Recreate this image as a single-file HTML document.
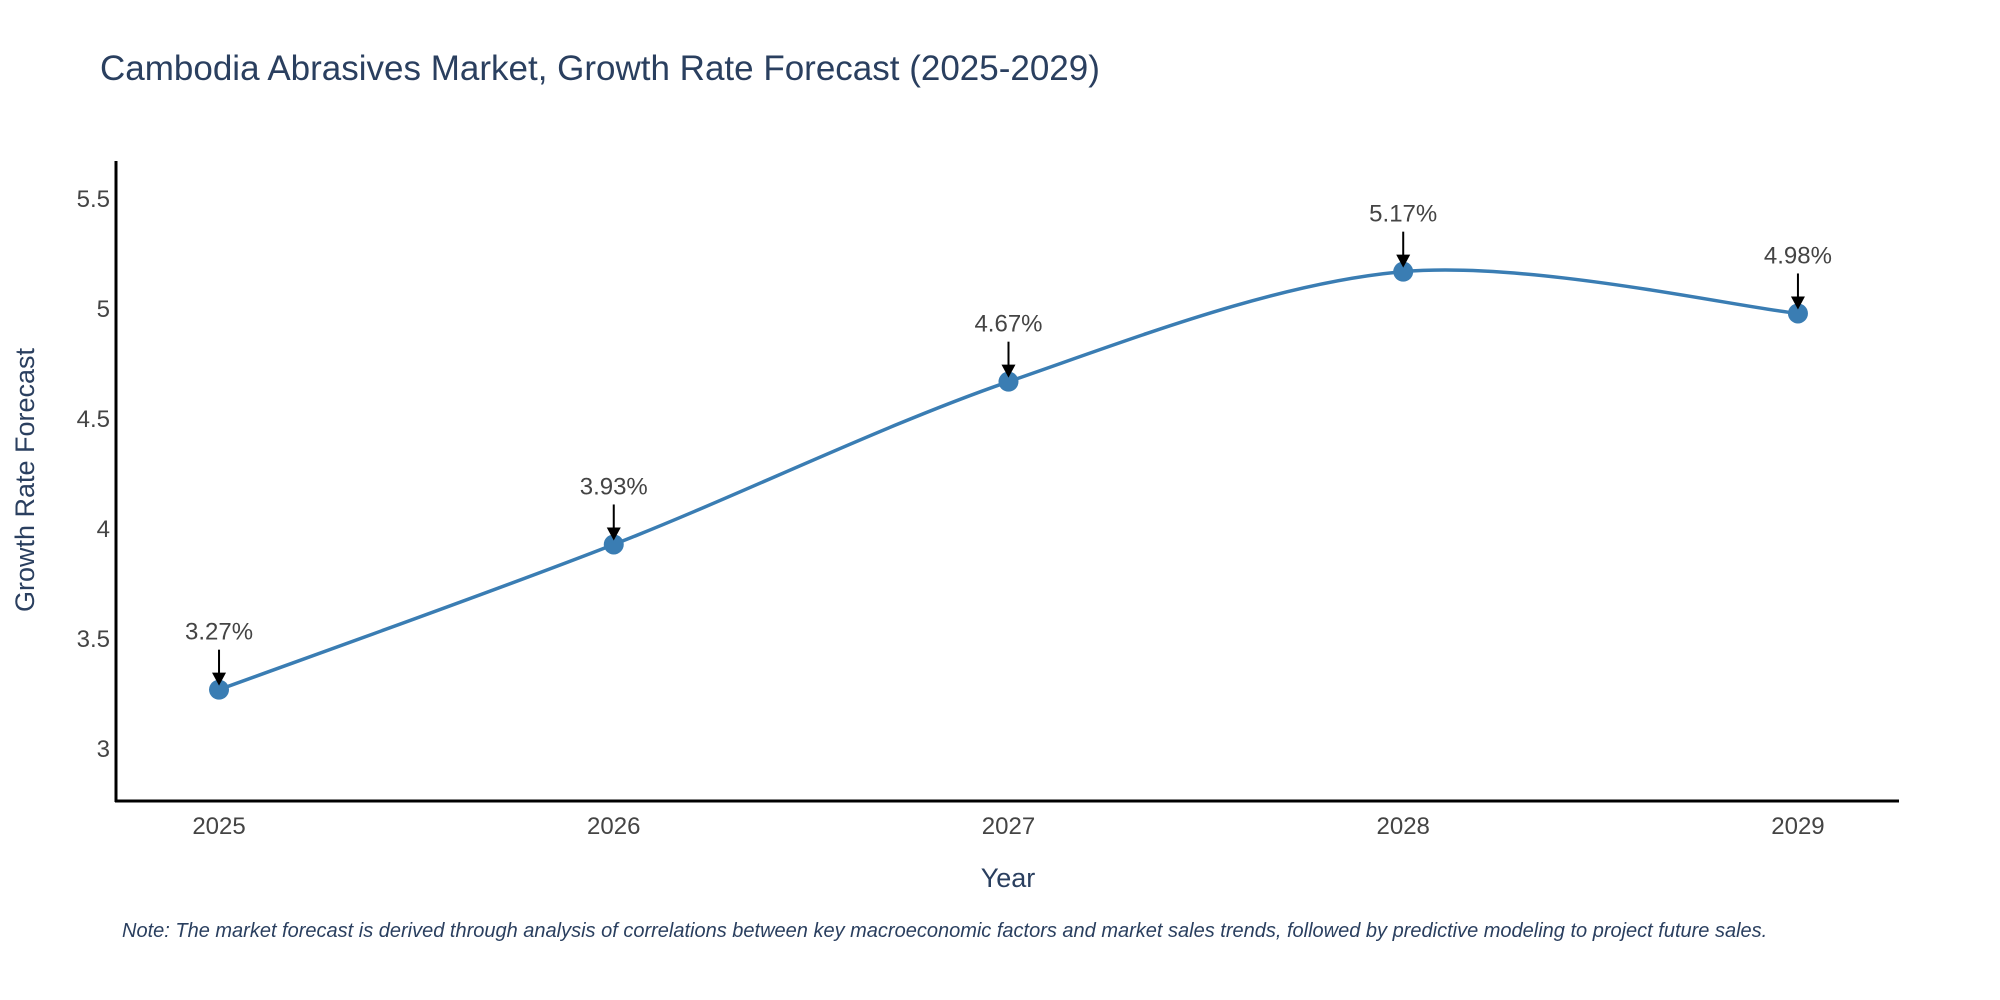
<!DOCTYPE html>
<html><head><meta charset="utf-8"><style>
body{margin:0;background:#fff;}
svg{display:block;font-family:"Liberation Sans","DejaVu Sans",sans-serif;}
</style></head><body>
<svg id="chart" width="2000" height="1000" viewBox="0 0 2000 1000">
<text x="100" y="80" font-size="35" fill="#2a3f5f">Cambodia Abrasives Market, Growth Rate Forecast (2025-2029)</text>
<g id="yticks"></g>
<g id="xticks"></g>
<line x1="116" y1="161" x2="116" y2="802" stroke="#000" stroke-width="3"/>
<line x1="115" y1="801" x2="1899" y2="801" stroke="#000" stroke-width="3"/>
<text transform="translate(34,480) rotate(-90)" text-anchor="middle" font-size="27" fill="#2a3f5f">Growth Rate Forecast</text>
<text x="1008" y="887" text-anchor="middle" font-size="27" fill="#2a3f5f">Year</text>
<g id="series"></g>
<text x="122" y="937" font-size="20" font-style="italic" fill="#2a3f5f">Note: The market forecast is derived through analysis of correlations between key macroeconomic factors and market sales trends, followed by predictive modeling to project future sales.</text>
</svg>
<script>
const years = [2025, 2026, 2027, 2028, 2029];
const growth = [3.27, 3.93, 4.67, 5.17, 4.98];
const yTickValues = [3, 3.5, 4, 4.5, 5, 5.5];
const yTickLabels = ["3", "3.5", "4", "4.5", "5", "5.5"];

const NS = "http://www.w3.org/2000/svg";
const xMin = 2024.739, xMax = 2029.256, px0 = 116, px1 = 1899;
const yMin = 2.764, yMax = 5.673, py0 = 801, py1 = 161;
function xs(v){ return px0 + (v - xMin) / (xMax - xMin) * (px1 - px0); }
function ys(v){ return py0 - (v - yMin) / (yMax - yMin) * (py0 - py1); }
function mk(tag, attrs, parent){ const e = document.createElementNS(NS, tag); for (const k in attrs) e.setAttribute(k, attrs[k]); parent.appendChild(e); return e; }

const yt = document.getElementById('yticks');
yTickValues.forEach((v, i) => {
  const t = mk('text', {x: 110, y: ys(v) + 8, 'text-anchor': 'end', 'font-size': 24, fill: '#444'}, yt);
  
  
  t.textContent = yTickLabels[i];
});
const xt = document.getElementById('xticks');
years.forEach(y => {
  const t = mk('text', {x: xs(y), y: 834, 'text-anchor': 'middle', 'font-size': 24, fill: '#444'}, xt);
  
  
  t.textContent = String(y);
});

const g = document.getElementById('series');
const pts = years.map((y, i) => [xs(y), ys(growth[i])]);
let d = 'M' + pts[0][0] + ',' + pts[0][1];
const s = 0.16;
for (let i = 0; i < pts.length - 1; i++) {
  const p0 = pts[Math.max(0, i - 1)], p1 = pts[i], p2 = pts[i + 1], p3 = pts[Math.min(pts.length - 1, i + 2)];
  const c1 = [p1[0] + (p2[0] - p0[0]) * s, p1[1] + (p2[1] - p0[1]) * s];
  const c2 = [p2[0] - (p3[0] - p1[0]) * s, p2[1] - (p3[1] - p1[1]) * s];
  d += ' C' + c1 + ' ' + c2 + ' ' + p2;
}
const line = mk('path', {d: d, fill: 'none', stroke: '#3a7db3', 'stroke-width': 3.5}, g);



pts.forEach((p, i) => {
  const c = mk('circle', {cx: p[0], cy: p[1], r: 10, fill: '#3a7db3'}, g);
  
  
  const a = mk('line', {x1: p[0], y1: p[1] - 40, x2: p[0], y2: p[1] - 14, stroke: '#000', 'stroke-width': 2}, g);
  
  
  const h = mk('polygon', {points: (p[0]-7)+','+(p[1]-17)+' '+(p[0]+7)+','+(p[1]-17)+' '+p[0]+','+(p[1]-4), fill: '#000'}, g);
  
  
  const t = mk('text', {x: p[0], y: p[1] - 50, 'text-anchor': 'middle', 'font-size': 24, fill: '#444'}, g);
  
  
  t.textContent = growth[i].toFixed(2) + '%';
});
</script>
</body></html>
